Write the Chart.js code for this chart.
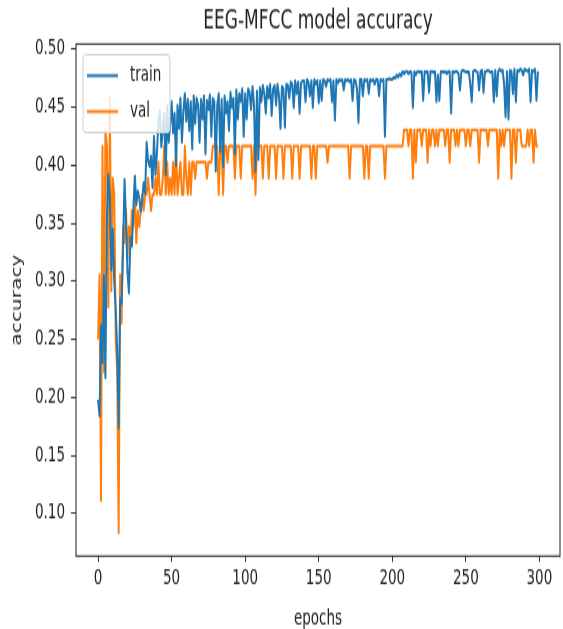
<!DOCTYPE html>
<html>
<head>
<meta charset="utf-8">
<script src="https://cdn.jsdelivr.net/npm/chart.js@4"></script>
<style>
  body { margin: 0; background: #fff; }
</style>
</head>
<body>
<!-- the reference is stretched vertically, so the canvas is drawn at 563x420 and shown at 563x629 -->
<canvas id="myChart" width="563" height="420" style="display:block;width:563px;height:629px"></canvas>
<script>
// series names
const seriesNames = ['train', 'val'];

// train accuracy per epoch (0..299)
const trainAcc = [
  0.198, 0.184, 0.262, 0.230, 0.305, 0.217, 0.355, 0.392, 0.372, 0.310,
  0.345, 0.300, 0.276, 0.240, 0.174, 0.285, 0.281, 0.330, 0.388, 0.352,
  0.308, 0.290, 0.338, 0.330, 0.362, 0.391, 0.366, 0.378, 0.372, 0.360,
  0.370, 0.385, 0.376, 0.420, 0.404, 0.399, 0.408, 0.381, 0.425, 0.392,
  0.410, 0.438, 0.447, 0.416, 0.430, 0.445, 0.392, 0.452, 0.420, 0.435,
  0.455, 0.428, 0.445, 0.400, 0.452, 0.432, 0.458, 0.420, 0.447, 0.462,
  0.438, 0.457, 0.430, 0.455, 0.414, 0.460, 0.436, 0.458, 0.452, 0.420,
  0.457, 0.440, 0.460, 0.410, 0.456, 0.448, 0.461, 0.425, 0.458, 0.455,
  0.395, 0.452, 0.462, 0.412, 0.457, 0.399, 0.460, 0.445, 0.455, 0.430,
  0.463, 0.450, 0.458, 0.410, 0.465, 0.440, 0.462, 0.455, 0.466, 0.425,
  0.462, 0.440, 0.466, 0.463, 0.448, 0.468, 0.452, 0.395, 0.464, 0.405,
  0.467, 0.455, 0.469, 0.462, 0.445, 0.468, 0.458, 0.470, 0.443, 0.466,
  0.469, 0.452, 0.470, 0.460, 0.432, 0.468, 0.466, 0.433, 0.470, 0.469,
  0.458, 0.472, 0.470, 0.450, 0.473, 0.462, 0.472, 0.445, 0.471, 0.473,
  0.473, 0.455, 0.474, 0.472, 0.460, 0.473, 0.450, 0.474, 0.470, 0.473,
  0.454, 0.473, 0.456, 0.474, 0.473, 0.468, 0.474, 0.473, 0.474, 0.455,
  0.473, 0.439, 0.474, 0.471, 0.474, 0.473, 0.474, 0.465, 0.474, 0.473,
  0.474, 0.472, 0.474, 0.456, 0.474, 0.473, 0.466, 0.437, 0.474, 0.474,
  0.460, 0.474, 0.473, 0.474, 0.462, 0.474, 0.473, 0.474, 0.470, 0.474,
  0.474, 0.460, 0.474, 0.473, 0.474, 0.425, 0.474, 0.474, 0.475, 0.474,
  0.474, 0.476, 0.475, 0.478, 0.476, 0.479, 0.477, 0.481, 0.479, 0.481,
  0.481, 0.479, 0.481, 0.480, 0.450, 0.481, 0.478, 0.481, 0.481, 0.480,
  0.481, 0.456, 0.481, 0.480, 0.481, 0.463, 0.481, 0.481, 0.480, 0.481,
  0.455, 0.478, 0.456, 0.481, 0.481, 0.480, 0.481, 0.479, 0.481, 0.481,
  0.445, 0.481, 0.480, 0.481, 0.481, 0.479, 0.465, 0.481, 0.482, 0.481,
  0.481, 0.480, 0.481, 0.470, 0.455, 0.481, 0.482, 0.481, 0.480, 0.465,
  0.481, 0.482, 0.463, 0.481, 0.481, 0.482, 0.481, 0.480, 0.481, 0.455,
  0.482, 0.460, 0.481, 0.483, 0.481, 0.482, 0.470, 0.442, 0.481, 0.440,
  0.482, 0.481, 0.462, 0.483, 0.455, 0.482, 0.481, 0.483, 0.482, 0.478,
  0.483, 0.482, 0.481, 0.483, 0.455, 0.482, 0.481, 0.483, 0.456, 0.481
];

// validation accuracy per epoch (0..299)
const valAcc = [
  0.2500, 0.3056, 0.1111, 0.4167, 0.2222, 0.4306, 0.4167, 0.2778, 0.4583, 0.2917,
  0.3889, 0.3750, 0.2500, 0.2222, 0.0833, 0.3056, 0.2639, 0.3472, 0.3333, 0.3611,
  0.3194, 0.3472, 0.3333, 0.3611, 0.3472, 0.3750, 0.3333, 0.3611, 0.3472, 0.3611,
  0.3750, 0.3611, 0.3750, 0.3750, 0.3889, 0.3750, 0.3611, 0.3750, 0.3750, 0.3889,
  0.3750, 0.4028, 0.3750, 0.3750, 0.3889, 0.4167, 0.3750, 0.4028, 0.3750, 0.3889,
  0.3750, 0.4028, 0.3750, 0.4167, 0.3750, 0.3889, 0.4028, 0.3750, 0.3750, 0.4167,
  0.3889, 0.3750, 0.4028, 0.3750, 0.4028, 0.4028, 0.3889, 0.4028, 0.4028, 0.4028,
  0.4028, 0.4028, 0.4028, 0.4028, 0.3889, 0.4028, 0.4028, 0.4028, 0.4167, 0.4167,
  0.4167, 0.4167, 0.3750, 0.4167, 0.4167, 0.3750, 0.4167, 0.4167, 0.4028, 0.4167,
  0.4167, 0.4167, 0.4167, 0.3889, 0.4167, 0.4167, 0.4167, 0.3889, 0.4167, 0.4167,
  0.4167, 0.4167, 0.4167, 0.4167, 0.4167, 0.3889, 0.4167, 0.3750, 0.4167, 0.4167,
  0.4167, 0.4167, 0.3889, 0.4167, 0.4167, 0.4167, 0.3889, 0.4167, 0.4167, 0.4167,
  0.4167, 0.3889, 0.4167, 0.4167, 0.4167, 0.4167, 0.3889, 0.4167, 0.4167, 0.4167,
  0.4167, 0.4167, 0.3889, 0.4167, 0.4167, 0.4167, 0.4167, 0.3889, 0.4167, 0.4167,
  0.4167, 0.4167, 0.4167, 0.4167, 0.4167, 0.3889, 0.4167, 0.4167, 0.3889, 0.4167,
  0.4167, 0.4167, 0.4167, 0.4167, 0.4167, 0.4167, 0.4028, 0.4167, 0.4167, 0.4167,
  0.4167, 0.4167, 0.4167, 0.4167, 0.4167, 0.4167, 0.4167, 0.4167, 0.4167, 0.4167,
  0.4167, 0.3889, 0.4167, 0.4167, 0.4167, 0.4167, 0.4167, 0.4167, 0.4167, 0.4167,
  0.4167, 0.3889, 0.4167, 0.4167, 0.3889, 0.4167, 0.4167, 0.4167, 0.4167, 0.4167,
  0.4167, 0.4167, 0.4167, 0.4167, 0.4167, 0.3889, 0.4167, 0.4167, 0.4167, 0.4167,
  0.4167, 0.4167, 0.4167, 0.4167, 0.4167, 0.4167, 0.4167, 0.4167, 0.4306, 0.4306,
  0.4306, 0.4167, 0.4306, 0.4306, 0.3889, 0.4306, 0.4028, 0.4306, 0.4306, 0.4306,
  0.4167, 0.4306, 0.4306, 0.4306, 0.4028, 0.4306, 0.4167, 0.4306, 0.4306, 0.4167,
  0.4306, 0.4167, 0.4306, 0.4306, 0.4306, 0.4306, 0.4167, 0.4306, 0.4306, 0.4028,
  0.4306, 0.4306, 0.4306, 0.4167, 0.4306, 0.4167, 0.4306, 0.4306, 0.4306, 0.4306,
  0.4167, 0.4306, 0.4306, 0.4167, 0.4306, 0.4306, 0.4306, 0.4306, 0.4306, 0.4028,
  0.4306, 0.4306, 0.4306, 0.4306, 0.4306, 0.4167, 0.4306, 0.4306, 0.4306, 0.4306,
  0.4306, 0.4306, 0.3889, 0.4306, 0.4167, 0.4306, 0.4167, 0.4306, 0.4306, 0.4306,
  0.4306, 0.3889, 0.4306, 0.4306, 0.4028, 0.4306, 0.4306, 0.4306, 0.4167, 0.4167,
  0.4167, 0.4167, 0.4306, 0.4167, 0.4306, 0.4306, 0.4028, 0.4306, 0.4167, 0.4167
];

// tick labels
const xTickValues = [0, 50, 100, 150, 200, 250, 300];
const yTickValues = [0.10, 0.15, 0.20, 0.25, 0.30, 0.35, 0.40, 0.45, 0.50];

const colors = ['#1f77b4', '#ff7f0e'];
const textColor = '#222';
const fontFamily = '"DejaVu Sans", sans-serif';

// draws the axes box and the matplotlib-like legend in the upper left
const frameAndLegend = {
  id: 'frameAndLegend',
  afterDatasetsDraw(chart) {
    const { ctx, chartArea: a } = chart;
    ctx.save();
    ctx.strokeStyle = '#333';
    ctx.lineWidth = 1.1;
    ctx.strokeRect(a.left, a.top, a.right - a.left, a.bottom - a.top);

    // legend box
    const bx = 83, by = 36.5, bw = 87, bh = 52, r = 3;
    ctx.beginPath();
    ctx.moveTo(bx + r, by);
    ctx.arcTo(bx + bw, by, bx + bw, by + bh, r);
    ctx.arcTo(bx + bw, by + bh, bx, by + bh, r);
    ctx.arcTo(bx, by + bh, bx, by, r);
    ctx.arcTo(bx, by, bx + bw, by, r);
    ctx.closePath();
    ctx.fillStyle = 'rgba(255,255,255,0.8)';
    ctx.fill();
    ctx.strokeStyle = '#d0d0d0';
    ctx.lineWidth = 1;
    ctx.stroke();

    // legend entries
    ctx.font = '13.5px ' + fontFamily;
    ctx.textBaseline = 'middle';
    chart.data.datasets.forEach((ds, i) => {
      const y = 50.5 + i * 24;
      ctx.strokeStyle = ds.borderColor;
      ctx.lineWidth = 2;
      ctx.beginPath();
      ctx.moveTo(87, y);
      ctx.lineTo(118, y);
      ctx.stroke();
      ctx.fillStyle = textColor;
      ctx.fillText(ds.label, 130, y);
    });
    ctx.restore();
  }
};

const chart = document.getElementById('myChart');
new Chart(chart, {
  type: 'line',
  data: {
    datasets: [trainAcc, valAcc].map((vals, i) => ({
      label: seriesNames[i],
      data: vals.map((v, epoch) => ({ x: epoch, y: v })),
      borderColor: colors[i],
      borderWidth: 2,
      borderJoinStyle: 'round',
      pointRadius: 0,
      tension: 0,
      fill: false
    }))
  },
  options: {
    responsive: false,
    devicePixelRatio: 1,
    animation: false,
    layout: { padding: { left: 0, right: 3, top: 0, bottom: 0 } },
    plugins: {
      legend: { display: false },
      tooltip: { enabled: false },
      title: {
        display: true,
        text: 'EEG-MFCC model accuracy',
        fullSize: false,
        color: textColor,
        font: { family: fontFamily, size: 17, weight: 'normal' },
        padding: { top: 4, bottom: 5 }
      }
    },
    scales: {
      x: {
        type: 'linear',
        min: -15,
        max: 314,
        afterBuildTicks: s => { s.ticks = xTickValues.map(v => ({ value: v })); },
        afterFit: s => { s.height = 48.7; },
        ticks: {
          color: textColor,
          font: { family: fontFamily, size: 13.5 },
          padding: 3,
          maxRotation: 0,
          callback: v => String(v)
        },
        grid: { drawOnChartArea: false, drawTicks: true, tickLength: 4, color: '#333' },
        border: { display: false },
        title: {
          display: true,
          text: 'epochs',
          color: textColor,
          font: { family: fontFamily, size: 13.5 },
          padding: { top: 0, bottom: -2 }
        }
      },
      y: {
        min: 0.0632,
        max: 0.5046,
        afterBuildTicks: s => { s.ticks = yTickValues.map(v => ({ value: v })); },
        afterFit: s => { s.width = 76; },
        ticks: {
          color: textColor,
          font: { family: fontFamily, size: 13.5 },
          padding: 6,
          callback: v => v.toFixed(2)
        },
        grid: { drawOnChartArea: false, drawTicks: true, tickLength: 5, color: '#333' },
        border: { display: false },
        title: {
          display: true,
          text: 'accuracy',
          color: textColor,
          font: { family: fontFamily, size: 13.5 },
          padding: { top: 9, bottom: 0 }
        }
      }
    }
  },
  plugins: [frameAndLegend]
});
</script>
</body>
</html>
